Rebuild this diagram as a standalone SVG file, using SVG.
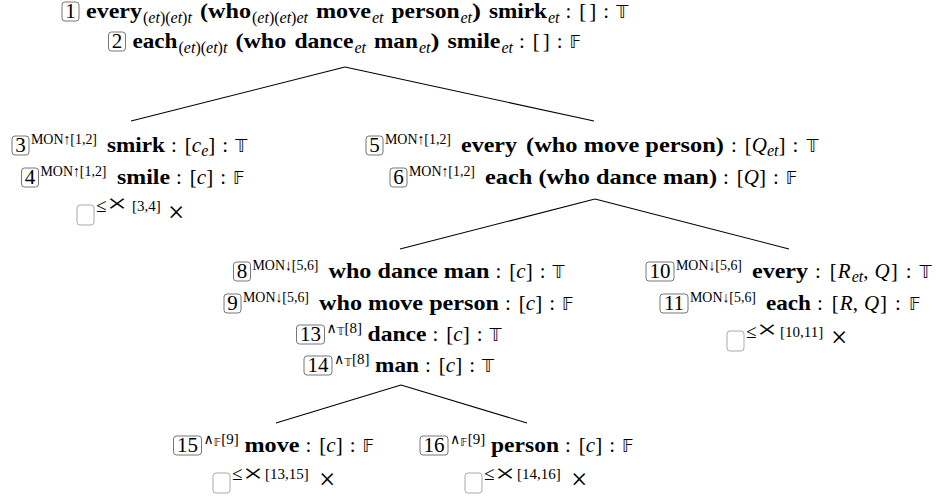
<svg xmlns="http://www.w3.org/2000/svg" width="943" height="500" viewBox="0 0 943 500">
<style>
.t{font-family:"Liberation Serif",serif;font-size:21px;fill:#000}
.b{font-weight:bold}
.i{font-style:italic}
.n{text-anchor:middle}
.sp{font-family:"Liberation Serif",serif;font-size:15px;fill:#000}
.le{font-family:"Liberation Serif",serif;font-size:19px;fill:#000}
.sb{font-family:"Liberation Serif",serif;font-size:16px;fill:#000}
.ds{font-family:"DejaVu Sans","DejaVu Serif",sans-serif;font-size:17px}
.dss{font-family:"DejaVu Sans","DejaVu Serif",sans-serif;font-size:11px}
.wg{font-family:"DejaVu Serif","DejaVu Sans",serif;font-size:14px}
.bx{font-family:"Liberation Serif",serif;font-size:25px;fill:#000}
.rx{font-family:"Liberation Serif",serif;font-size:29px;fill:#000}
.nb{fill:#fff;stroke:#777;stroke-width:1}
.cb{fill:#fff;stroke:#aaa;stroke-width:1}
.edge line{stroke:#000;stroke-width:1.1}
</style>
<rect width="943" height="500" fill="#fff"/>
<g id="connectors" class="edge">
<line x1="345" y1="67" x2="131" y2="121"/>
<line x1="345" y1="67" x2="594" y2="121"/>
<line x1="595" y1="199" x2="400" y2="249"/>
<line x1="595" y1="199" x2="789" y2="249"/>
<line x1="401" y1="385" x2="276" y2="423"/>
<line x1="401" y1="385" x2="527" y2="423"/>
</g>
<g id="n1">
<rect class="nb" x="62" y="2" width="17" height="19" rx="3"/>
<text class="t n" x="70.5" y="18">1</text>
<text class="t b" x="86" y="18" textLength="56" lengthAdjust="spacingAndGlyphs">every</text>
<text class="sb" x="143" y="23">(<tspan class="i">et</tspan>)(<tspan class="i">et</tspan>)<tspan class="i">t</tspan></text>
<text class="t b" x="200" y="18" textLength="51" lengthAdjust="spacingAndGlyphs">(who</text>
<text class="sb" x="252" y="23">(<tspan class="i">et</tspan>)(<tspan class="i">et</tspan>)<tspan class="i">et</tspan></text>
<text class="t b" x="316" y="18" textLength="55" lengthAdjust="spacingAndGlyphs">move</text>
<text class="sb i" x="372" y="23">et</text>
<text class="t b" x="391.5" y="18" textLength="68" lengthAdjust="spacingAndGlyphs">person</text>
<text class="sb i" x="460.5" y="23">et</text>
<text class="t b" x="472" y="18" textLength="9" lengthAdjust="spacingAndGlyphs">)</text>
<text class="t b" x="489" y="18" textLength="58" lengthAdjust="spacingAndGlyphs">smirk</text>
<text class="sb i" x="548" y="23">et</text>
<text class="t" x="565.5" y="18">:<tspan dx="8">[</tspan><tspan dx="3">]</tspan><tspan dx="7">:</tspan><tspan class="ds" dx="7">𝕋</tspan></text>
</g>
<g id="n2">
<rect class="nb" x="108.5" y="32" width="17" height="19" rx="3"/>
<text class="t n" x="117" y="48">2</text>
<text class="t b" x="132.5" y="48" textLength="45" lengthAdjust="spacingAndGlyphs">each</text>
<text class="sb" x="178.5" y="53">(<tspan class="i">et</tspan>)(<tspan class="i">et</tspan>)<tspan class="i">t</tspan></text>
<text class="t b" x="235.4" y="48" textLength="51" lengthAdjust="spacingAndGlyphs">(who</text>
<text class="t b" x="294.4" y="48" textLength="59" lengthAdjust="spacingAndGlyphs">dance</text>
<text class="sb i" x="354.4" y="53">et</text>
<text class="t b" x="373.9" y="48" textLength="44" lengthAdjust="spacingAndGlyphs">man</text>
<text class="sb i" x="418.9" y="53">et</text>
<text class="t b" x="430.4" y="48" textLength="9" lengthAdjust="spacingAndGlyphs">)</text>
<text class="t b" x="447.4" y="48" textLength="53" lengthAdjust="spacingAndGlyphs">smile</text>
<text class="sb i" x="501.4" y="53">et</text>
<text class="t" x="518.9" y="48">:<tspan dx="8">[</tspan><tspan dx="3">]</tspan><tspan dx="7">:</tspan><tspan class="ds" dx="7">𝔽</tspan></text>
</g>
<g id="n3">
<rect class="nb" x="12" y="136" width="17" height="19" rx="3"/>
<text class="t n" x="20.5" y="152">3</text>
<text class="sp" x="31" y="144" textLength="66" lengthAdjust="spacingAndGlyphs">MON↑[1,2]</text>
<text class="t b" x="107" y="152" textLength="58" lengthAdjust="spacingAndGlyphs">smirk</text>
<text class="t" x="171" y="152">:<tspan dx="8">[</tspan><tspan class="i">c</tspan><tspan class="sb i" dy="4">e</tspan><tspan dy="-4">]</tspan><tspan dx="7">:</tspan><tspan class="ds" dx="7">𝕋</tspan></text>
</g>
<g id="n4">
<rect class="nb" x="21.5" y="168" width="17" height="19" rx="3"/>
<text class="t n" x="30" y="184">4</text>
<text class="sp" x="40.5" y="176" textLength="66" lengthAdjust="spacingAndGlyphs">MON↑[1,2]</text>
<text class="t b" x="117" y="184" textLength="53" lengthAdjust="spacingAndGlyphs">smile</text>
<text class="t" x="176" y="184">:<tspan dx="8">[</tspan><tspan class="i">c</tspan><tspan>]</tspan><tspan dx="7">:</tspan><tspan class="ds" dx="7">𝔽</tspan></text>
</g>
<g id="c34">
<rect class="cb" x="77" y="205" width="17" height="20" rx="3"/>
<text class="le" x="96" y="212">≤</text>
<text class="bx" x="107" y="211.5" textLength="20" lengthAdjust="spacingAndGlyphs">×</text>
<text class="sp" x="132" y="211">[3,4]</text>
<text class="rx" x="168" y="222">×</text>
</g>
<g id="n5">
<rect class="nb" x="366" y="136" width="17" height="19" rx="3"/>
<text class="t n" x="374.5" y="152">5</text>
<text class="sp" x="385" y="144" textLength="66" lengthAdjust="spacingAndGlyphs">MON↑[1,2]</text>
<text class="t b" x="461" y="152" textLength="56" lengthAdjust="spacingAndGlyphs">every</text>
<text class="t b" x="526" y="152" textLength="198" lengthAdjust="spacingAndGlyphs">(who move person)</text>
<text class="t" x="731" y="152">:<tspan dx="8">[</tspan><tspan class="i">Q</tspan><tspan class="sb i" dy="4">et</tspan><tspan dy="-4">]</tspan><tspan dx="7">:</tspan><tspan class="ds" dx="8">𝕋</tspan></text>
</g>
<g id="n6">
<rect class="nb" x="390" y="168" width="17" height="19" rx="3"/>
<text class="t n" x="398.5" y="184">6</text>
<text class="sp" x="409" y="176" textLength="66" lengthAdjust="spacingAndGlyphs">MON↑[1,2]</text>
<text class="t b" x="485" y="184" textLength="232" lengthAdjust="spacingAndGlyphs">each (who dance man)</text>
<text class="t" x="723" y="184">:<tspan dx="8">[</tspan><tspan class="i">Q</tspan><tspan>]</tspan><tspan dx="7">:</tspan><tspan class="ds" dx="7">𝔽</tspan></text>
</g>
<g id="n8">
<rect class="nb" x="233.5" y="262" width="17" height="19" rx="3"/>
<text class="t n" x="242" y="278">8</text>
<text class="sp" x="252.5" y="270" textLength="66" lengthAdjust="spacingAndGlyphs">MON↓[5,6]</text>
<text class="t b" x="328.5" y="278" textLength="161" lengthAdjust="spacingAndGlyphs">who dance man</text>
<text class="t" x="495.5" y="278">:<tspan dx="8">[</tspan><tspan class="i">c</tspan><tspan>]</tspan><tspan dx="7">:</tspan><tspan class="ds" dx="7">𝕋</tspan></text>
</g>
<g id="n9">
<rect class="nb" x="224" y="294" width="17" height="19" rx="3"/>
<text class="t n" x="232.5" y="310">9</text>
<text class="sp" x="243" y="302" textLength="66" lengthAdjust="spacingAndGlyphs">MON↓[5,6]</text>
<text class="t b" x="319" y="310" textLength="180" lengthAdjust="spacingAndGlyphs">who move person</text>
<text class="t" x="505" y="310">:<tspan dx="8">[</tspan><tspan class="i">c</tspan><tspan>]</tspan><tspan dx="7">:</tspan><tspan class="ds" dx="7">𝔽</tspan></text>
</g>
<g id="n13">
<rect class="nb" x="296.5" y="325" width="28" height="19" rx="3"/>
<text class="t n" x="310.5" y="341">13</text>
<text class="sp" x="326.5" y="333"><tspan class="wg">∧</tspan><tspan class="dss" dy="2">𝕋</tspan><tspan dy="-2">[8]</tspan></text>
<text class="t b" x="367.5" y="341" textLength="59" lengthAdjust="spacingAndGlyphs">dance</text>
<text class="t" x="432.5" y="341">:<tspan dx="8">[</tspan><tspan class="i">c</tspan><tspan>]</tspan><tspan dx="7">:</tspan><tspan class="ds" dx="7">𝕋</tspan></text>
</g>
<g id="n14">
<rect class="nb" x="304" y="356" width="28" height="19" rx="3"/>
<text class="t n" x="318" y="372">14</text>
<text class="sp" x="334" y="364"><tspan class="wg">∧</tspan><tspan class="dss" dy="2">𝕋</tspan><tspan dy="-2">[8]</tspan></text>
<text class="t b" x="375" y="372" textLength="44" lengthAdjust="spacingAndGlyphs">man</text>
<text class="t" x="425" y="372">:<tspan dx="8">[</tspan><tspan class="i">c</tspan><tspan>]</tspan><tspan dx="7">:</tspan><tspan class="ds" dx="7">𝕋</tspan></text>
</g>
<g id="n10">
<rect class="nb" x="646" y="262" width="28" height="19" rx="3"/>
<text class="t n" x="660" y="278">10</text>
<text class="sp" x="676" y="270" textLength="66" lengthAdjust="spacingAndGlyphs">MON↓[5,6]</text>
<text class="t b" x="752" y="278" textLength="56" lengthAdjust="spacingAndGlyphs">every</text>
<text class="t" x="815" y="278">:<tspan dx="9">[</tspan><tspan class="i" dx="1">R</tspan><tspan class="sb i" dx="1" dy="4">et</tspan><tspan dy="-4">,</tspan><tspan class="i" dx="6">Q</tspan><tspan dx="1">]</tspan><tspan dx="8">:</tspan><tspan class="ds" dx="8">𝕋</tspan></text>
</g>
<g id="n11">
<rect class="nb" x="660" y="294" width="28" height="19" rx="3"/>
<text class="t n" x="674" y="310">11</text>
<text class="sp" x="690" y="302" textLength="66" lengthAdjust="spacingAndGlyphs">MON↓[5,6]</text>
<text class="t b" x="766" y="310" textLength="45" lengthAdjust="spacingAndGlyphs">each</text>
<text class="t" x="817" y="310">:<tspan dx="9">[</tspan><tspan class="i" dx="1">R</tspan><tspan>,</tspan><tspan class="i" dx="6">Q</tspan><tspan dx="1">]</tspan><tspan dx="8">:</tspan><tspan class="ds" dx="8">𝔽</tspan></text>
</g>
<g id="c1011">
<rect class="cb" x="727" y="331" width="17" height="20" rx="3"/>
<text class="le" x="746" y="338">≤</text>
<text class="bx" x="757" y="337.5" textLength="20" lengthAdjust="spacingAndGlyphs">×</text>
<text class="sp" x="780" y="337">[10,11]</text>
<text class="rx" x="831" y="347">×</text>
</g>
<g id="n15">
<rect class="nb" x="173.5" y="436" width="28" height="19" rx="3"/>
<text class="t n" x="187.5" y="452">15</text>
<text class="sp" x="203.5" y="444"><tspan class="wg">∧</tspan><tspan class="dss" dy="2">𝔽</tspan><tspan dy="-2">[9]</tspan></text>
<text class="t b" x="244.5" y="452" textLength="55" lengthAdjust="spacingAndGlyphs">move</text>
<text class="t" x="305.5" y="452">:<tspan dx="8">[</tspan><tspan class="i">c</tspan><tspan>]</tspan><tspan dx="7">:</tspan><tspan class="ds" dx="7">𝔽</tspan></text>
</g>
<g id="n16">
<rect class="nb" x="420" y="436" width="28" height="19" rx="3"/>
<text class="t n" x="434" y="452">16</text>
<text class="sp" x="450" y="444"><tspan class="wg">∧</tspan><tspan class="dss" dy="2">𝔽</tspan><tspan dy="-2">[9]</tspan></text>
<text class="t b" x="491" y="452" textLength="68" lengthAdjust="spacingAndGlyphs">person</text>
<text class="t" x="565" y="452">:<tspan dx="8">[</tspan><tspan class="i">c</tspan><tspan>]</tspan><tspan dx="7">:</tspan><tspan class="ds" dx="7">𝔽</tspan></text>
</g>
<g id="c1315">
<rect class="cb" x="213" y="473" width="17" height="20" rx="3"/>
<text class="le" x="232" y="480">≤</text>
<text class="bx" x="243" y="481.5" textLength="20" lengthAdjust="spacingAndGlyphs">×</text>
<text class="sp" x="265" y="479">[13,15]</text>
<text class="rx" x="319" y="489">×</text>
</g>
<g id="c1416">
<rect class="cb" x="465" y="473" width="17" height="20" rx="3"/>
<text class="le" x="484" y="480">≤</text>
<text class="bx" x="495" y="481.5" textLength="20" lengthAdjust="spacingAndGlyphs">×</text>
<text class="sp" x="517" y="479">[14,16]</text>
<text class="rx" x="571" y="489">×</text>
</g>
</svg>
